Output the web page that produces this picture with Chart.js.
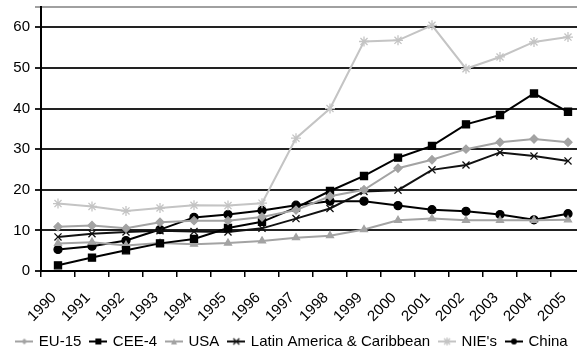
<!DOCTYPE html>
<html>
<head>
<meta charset="utf-8">
<script src="https://cdn.jsdelivr.net/npm/chart.js@4.4.1/dist/chart.umd.min.js"></script>
<style>
  html, body { margin: 0; padding: 0; background: #fff; overflow: hidden; }
  #wrap { width: 594px; height: 366px; margin-top: -7px; }
</style>
</head>
<body>
<div id="wrap"><canvas id="chart" width="594" height="366"></canvas></div>
<script>
const years = ['1990', '1991', '1992', '1993', '1994', '1995', '1996', '1997',
  '1998', '1999', '2000', '2001', '2002', '2003', '2004', '2005'];

const eu15 = [10.9, 11.2, 10.5, 12.0, 12.4, 12.4, 13.3, 15.0, 18.4, 20.0, 25.3, 27.4, 30.0, 31.7, 32.5, 31.7];
const cee4 = [1.4, 3.3, 5.1, 6.8, 7.9, 10.6, 12.1, 15.6, 19.7, 23.4, 27.9, 30.8, 36.1, 38.4, 43.7, 39.2];
const usa = [6.8, 7.1, 6.3, 6.9, 6.6, 6.9, 7.4, 8.2, 8.7, 10.2, 12.5, 12.9, 12.5, 12.5, 12.5, 12.6];
const latinAmerica = [8.4, 9.2, 9.6, 9.9, 9.7, 9.6, 10.5, 12.9, 15.4, 19.6, 19.9, 24.9, 26.1, 29.2, 28.3, 27.1];
const nies = [16.6, 15.9, 14.8, 15.5, 16.2, 16.1, 16.7, 32.7, 40.0, 56.5, 56.8, 60.5, 49.8, 52.7, 56.4, 57.6];
const china = [5.3, 6.1, 7.5, 10.2, 13.2, 13.9, 14.9, 16.2, 17.2, 17.2, 16.1, 15.1, 14.7, 13.9, 12.6, 14.1];

const FONT = "'Liberation Sans', Arial, sans-serif";

// little line+marker icons for the legend
function legendIcon(color, marker) {
  const c = document.createElement('canvas');
  c.width = 18;
  c.height = 12;
  const ctx = c.getContext('2d');
  ctx.strokeStyle = color;
  ctx.fillStyle = color;
  ctx.lineWidth = 2;
  ctx.beginPath();
  ctx.moveTo(0, 6);
  ctx.lineTo(18, 6);
  ctx.stroke();
  ctx.lineWidth = 1.3;
  ctx.beginPath();
  if (marker === 'diamond') {
    ctx.moveTo(9, 3); ctx.lineTo(12, 6); ctx.lineTo(9, 9); ctx.lineTo(6, 6); ctx.closePath(); ctx.fill();
  } else if (marker === 'square') {
    ctx.fillRect(6, 3, 6, 6);
  } else if (marker === 'triangle') {
    ctx.moveTo(9, 3); ctx.lineTo(12, 9); ctx.lineTo(6, 9); ctx.closePath(); ctx.fill();
  } else if (marker === 'x') {
    ctx.moveTo(6, 3); ctx.lineTo(12, 9); ctx.moveTo(12, 3); ctx.lineTo(6, 9); ctx.stroke();
  } else if (marker === 'star') {
    ctx.moveTo(6, 3); ctx.lineTo(12, 9); ctx.moveTo(12, 3); ctx.lineTo(6, 9);
    ctx.moveTo(9, 2); ctx.lineTo(9, 10); ctx.stroke();
  } else {
    ctx.arc(9, 6, 3, 0, Math.PI * 2); ctx.fill();
  }
  return c;
}

function series(label, data, color, pointStyle, radius, marker) {
  return {
    label,
    data,
    borderColor: color,
    backgroundColor: color,
    borderWidth: 2,
    pointStyle,
    pointRadius: radius,
    pointBorderWidth: 1.3,
    tension: 0,
    icon: legendIcon(color, marker),
  };
}

const datasets = [
  series('EU-15', eu15, '#a3a3a3', 'rectRot', 4, 'diamond'),
  series('CEE-4', cee4, '#000000', 'rect', 5, 'square'),
  series('USA', usa, '#a3a3a3', 'triangle', 4, 'triangle'),
  series('Latin America & Caribbean', latinAmerica, '#111111', 'crossRot', 5, 'x'),
  series("NIE's", nies, '#c4c4c4', 'star', 5, 'star'),
  series('China', china, '#000000', 'circle', 4, 'circle'),
];

new Chart(document.getElementById('chart'), {
  type: 'line',
  data: { labels: years, datasets },
  options: {
    responsive: false,
    animation: false,
    layout: { padding: { left: 0, right: 9, top: 3, bottom: 0 } },
    plugins: {
      tooltip: { enabled: false },
      legend: {
        position: 'bottom',
        labels: {
          usePointStyle: true,
          pointStyleWidth: 14,
          boxHeight: 12,
          padding: 10,
          color: '#000',
          font: { family: FONT, size: 15 },
          generateLabels: (chart) => {
            const items = Chart.defaults.plugins.legend.labels.generateLabels(chart);
            return items.map((item) => ({ ...item, pointStyle: chart.data.datasets[item.datasetIndex].icon }));
          },
        },
      },
    },
    scales: {
      x: {
        offset: true,
        afterFit: (scale) => { scale.height = 53; },
        border: { color: '#000', width: 2 },
        grid: { drawOnChartArea: false, tickLength: 6, color: '#000', lineWidth: 1.5, offset: true },
        ticks: {
          minRotation: 45,
          maxRotation: 45,
          color: '#000',
          padding: 12,
          labelOffset: -4,
          font: { family: FONT, size: 15 },
        },
      },
      y: {
        min: 0,
        max: 65,
        afterFit: (scale) => { scale.width = 41; },
        border: { color: '#000', width: 2 },
        grid: {
          tickLength: 6,
          lineWidth: 2,
          color: (ctx) => (ctx.tick && ctx.tick.value === 65 ? '#a0a0a0' : '#222'),
        },
        ticks: {
          stepSize: 10,
          color: '#000',
          padding: 5,
          font: { family: FONT, size: 15 },
          callback: (v) => (v === 65 ? '' : v),
        },
      },
    },
  },
});
</script>
</body>
</html>
